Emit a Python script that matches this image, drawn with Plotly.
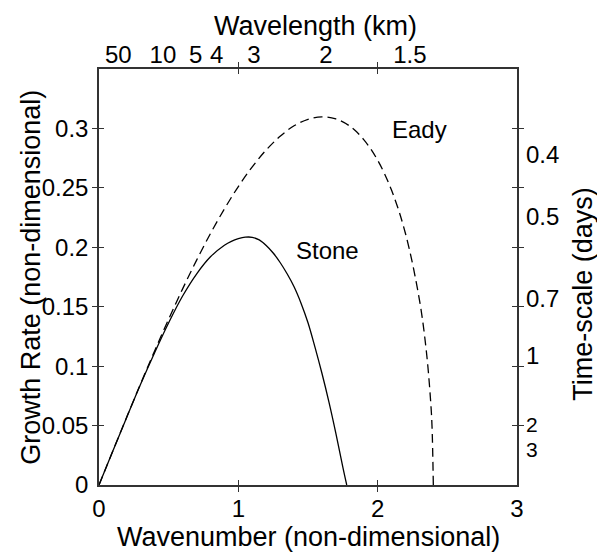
import plotly.graph_objects as go

# Eady curve (wavenumber, growth rate)
eady_k = [0.0, 0.1, 0.2, 0.3, 0.4, 0.5, 0.6, 0.7, 0.8, 0.9, 1.0, 1.1, 1.2, 1.3, 1.4,
          1.5, 1.6, 1.7, 1.8, 1.9, 2.0, 2.1, 2.2, 2.3, 2.35, 2.38, 2.39, 2.3994]
eady_s = [0.0, 0.0288, 0.0574, 0.0856, 0.1130, 0.1396, 0.1650, 0.1890, 0.2116, 0.2323,
          0.2511, 0.2677, 0.2819, 0.2934, 0.3022, 0.3077, 0.3098, 0.3080, 0.3019, 0.2906,
          0.2732, 0.2479, 0.2114, 0.1556, 0.1119, 0.0709, 0.0495, 0.0]

# Stone curve
stone_k = [0.0, 0.1, 0.2, 0.3, 0.4, 0.5, 0.6, 0.7, 0.8, 0.9, 0.95, 1.0, 1.05, 1.1, 1.15,
           1.2, 1.25, 1.3, 1.35, 1.4, 1.45, 1.5, 1.55, 1.6, 1.65, 1.7, 1.75, 1.778]
stone_s = [0.0, 0.0288, 0.0573, 0.0852, 0.1115, 0.1365, 0.1590, 0.1775, 0.1920, 0.2017,
           0.2050, 0.2072, 0.2085, 0.2084, 0.2062, 0.2015, 0.1952, 0.1872, 0.1777, 0.1668,
           0.1530, 0.1365, 0.1160, 0.0940, 0.0700, 0.0435, 0.0150, 0.0]

# axes ticks
x_ticks = [0, 1, 2, 3]
y_ticks = [0, 0.05, 0.1, 0.15, 0.2, 0.25, 0.3]
y_ticktext = ["0", "0.05", "0.1", "0.15", "0.2", "0.25", "0.3"]

# top axis: wavelength labels at wavenumber positions
wl_pos = [0.139, 0.459, 0.693, 0.845, 1.111, 1.628, 2.231]
wl_text = ["50", "10", "5", "4", "3", "2", "1.5"]

# right axis: time-scale labels at growth-rate positions
ts_pos = [0.2776, 0.2256, 0.1569, 0.1091, 0.0520, 0.0310]
ts_text = ["0.4", "0.5", "0.7", "1",
           "<span style='font-size:21px'>2</span>",
           "<span style='font-size:21px'>3</span>"]

FONT = "Liberation Sans, Arial, Helvetica, sans-serif"
TICKF = dict(family=FONT, size=24, color="black")
TITLEF = dict(family=FONT, size=27, color="black")
AXC = "#333333"

fig = go.Figure()
fig.add_trace(go.Scatter(x=eady_k, y=eady_s, mode="lines", name="Eady",
                         line=dict(color="black", width=1.3, dash="9px,5px", shape="spline")))
fig.add_trace(go.Scatter(x=stone_k, y=stone_s, mode="lines", name="Stone",
                         line=dict(color="black", width=1.3, shape="spline")))
# invisible traces to activate secondary axes
fig.add_trace(go.Scatter(x=[0], y=[0], xaxis="x2", yaxis="y", mode="markers",
                         marker=dict(opacity=0), showlegend=False, hoverinfo="skip"))
fig.add_trace(go.Scatter(x=[0], y=[0], xaxis="x", yaxis="y2", mode="markers",
                         marker=dict(opacity=0), showlegend=False, hoverinfo="skip"))

fig.add_annotation(x=2.30, y=0.2987, text="Eady", showarrow=False, font=TICKF)
fig.add_annotation(x=1.637, y=0.1976, text="Stone", showarrow=False, font=TICKF)

# axis titles
fig.add_annotation(xref="paper", yref="paper", x=0.5, y=-0.125, text="Wavenumber (non-dimensional)",
                   showarrow=False, font=TITLEF, xanchor="center", yanchor="middle")
fig.add_annotation(xref="paper", yref="paper", x=0.519, y=1.104, text="Wavelength (km)",
                   showarrow=False, font=TITLEF, xanchor="center", yanchor="middle")
fig.add_annotation(xref="paper", yref="paper", x=-0.163, y=0.5, text="Growth Rate (non-dimensional)",
                   showarrow=False, font=TITLEF, textangle=-90, xanchor="center", yanchor="middle")
fig.add_annotation(xref="paper", yref="paper", x=1.158, y=0.46, text="Time-scale (days)",
                   showarrow=False, font=TITLEF, textangle=-90, xanchor="center", yanchor="middle")

fig.update_layout(
    width=597, height=552,
    margin=dict(l=99, r=80, t=69, b=67),
    paper_bgcolor="white", plot_bgcolor="white",
    showlegend=False,
    xaxis=dict(range=[0, 3], tickvals=x_ticks, ticks="inside", ticklen=5, tickcolor=AXC,
               showline=True, linecolor=AXC, linewidth=1.5, mirror="allticks",
               showgrid=False, zeroline=False, tickfont=TICKF, ticklabelstandoff=1,
               automargin=False),
    yaxis=dict(range=[0, 0.35], tickvals=y_ticks, ticktext=y_ticktext, ticks="inside",
               ticklen=5, tickcolor=AXC, showline=True, linecolor=AXC, linewidth=1.5,
               mirror="allticks", showgrid=False, zeroline=False, tickfont=TICKF,
               ticklabelstandoff=4, automargin=False),
    xaxis2=dict(range=[0, 3], overlaying="x", side="top", tickvals=wl_pos, ticktext=wl_text,
                ticks="", showline=False, showgrid=False, zeroline=False, tickfont=TICKF,
                ticklabelstandoff=0, automargin=False),
    yaxis2=dict(range=[0, 0.35], overlaying="y", side="right", tickvals=ts_pos, ticktext=ts_text,
                ticks="", showline=False, showgrid=False, zeroline=False, tickfont=TICKF,
                ticklabelstandoff=8, automargin=False),
)

fig.write_html("out.html")
